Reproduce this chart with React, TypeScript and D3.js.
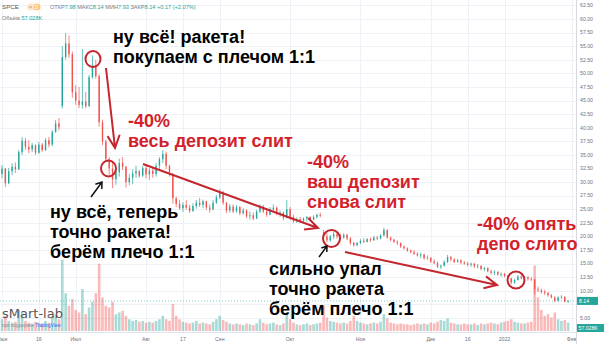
import React from 'react';
import * as d3 from 'd3';

const W = 605;
const H = 344;

// Daily candles, 2021-06-01 .. 2022-01-31 (trading days)
const OPEN = [31.5,32.5,29.8,32.0,32.8,32.4,35.5,37.6,36.5,36.0,36.8,35.4,36.9,35.9,37.7,36.9,39.2,40.8,44.0,53.0,
55.5,53.5,46.5,45.0,44.2,44.8,44.0,49.3,51.5,49.5,41.0,37.5,34.2,32.5,30.5,31.8,33.5,32.8,30.0,30.8,
31.6,32.0,31.2,32.6,31.4,32.1,31.5,33.0,34.2,35.2,33.0,31.5,27.0,26.0,25.2,25.8,25.3,24.7,25.6,26.2,
25.8,26.5,25.3,25.0,26.2,27.2,28.1,26.2,24.8,25.5,24.6,25.4,24.3,24.8,23.7,23.9,23.3,24.6,25.5,24.6,
24.0,25.0,25.3,24.2,24.4,23.4,25.0,23.6,22.8,23.2,22.9,23.3,23.6,23.1,23.6,24.0,20.8,20.0,19.3,20.0,
20.4,20.0,19.8,20.3,19.6,18.8,18.4,18.8,19.2,19.0,19.5,19.3,19.8,19.6,20.2,21.2,19.8,19.4,19.0,18.8,
18.1,17.8,17.4,17.1,16.8,16.5,16.7,16.0,16.1,15.4,15.1,14.4,14.6,15.3,16.2,15.8,15.3,15.6,15.2,15.0,
14.8,15.0,14.5,14.6,14.0,14.2,13.6,13.3,13.5,13.0,13.1,12.7,12.3,11.5,12.0,12.6,12.3,12.5,12.2,12.1,
10.3,10.1,9.8,9.6,9.2,8.8,8.2,8.8,8.9,8.0];
const HIGH = [33.1,32.6,32.6,33.5,33.6,35.9,38.3,38.1,37.7,37.2,36.9,37.4,37.2,38.1,38.3,39.6,41.4,41.8,55.0,57.4,
57.0,54.0,47.8,47.5,54.5,46.6,49.7,53.3,52.5,49.8,41.5,37.8,34.6,33.8,32.4,34.3,34.6,33.0,31.5,32.3,
33.0,32.2,33.0,33.0,32.6,32.8,33.5,34.6,35.9,35.6,33.2,31.7,27.3,26.7,26.3,26.7,25.8,26.1,26.7,27.1,
26.8,26.6,25.9,26.7,27.6,28.7,28.4,26.4,26.0,25.9,25.8,25.6,25.2,25.0,24.6,24.4,24.9,25.9,25.8,25.2,
25.4,25.9,25.5,24.8,24.6,26.7,25.4,24.0,23.5,23.6,23.5,23.8,23.7,23.9,24.2,24.4,21.2,20.6,20.3,20.8,
20.6,20.5,20.6,20.5,19.9,19.0,19.0,19.5,19.7,19.7,19.8,20.1,20.1,20.4,21.6,21.3,20.0,19.6,19.3,18.9,
18.4,18.0,17.6,17.5,17.1,17.0,16.8,16.5,16.2,15.8,15.4,14.8,15.6,16.6,16.4,16.0,15.9,15.8,15.5,15.3,
15.2,15.1,14.9,14.7,14.4,14.3,13.9,13.8,13.6,13.4,13.3,12.9,12.4,12.2,12.9,12.9,12.7,12.7,12.5,12.2,
10.8,10.4,10.2,9.8,9.4,9.0,9.0,9.2,9.0,8.3];
const LOW = [30.7,29.1,29.6,31.3,31.7,32.2,35.0,35.9,35.3,35.5,35.0,35.2,35.5,35.7,36.4,36.6,39.1,39.5,43.5,52.5,
52.8,45.5,44.2,43.6,43.5,43.6,43.8,49.0,49.0,40.2,36.8,33.7,31.3,28.9,29.5,31.0,32.2,29.0,29.4,29.6,
30.8,30.8,30.9,30.7,30.4,30.8,31.0,32.2,33.5,32.4,31.0,26.0,25.4,24.9,24.5,24.9,24.3,24.5,25.1,25.4,
25.2,24.9,24.4,24.8,26.0,26.9,25.8,24.3,24.4,24.3,24.4,23.9,24.0,23.4,23.1,23.0,23.2,24.3,24.3,23.6,
23.9,24.5,23.9,23.6,23.0,23.3,23.0,22.5,22.5,22.5,22.7,22.7,22.8,23.0,23.3,23.5,19.6,18.9,19.0,19.5,
19.6,19.4,19.6,19.3,18.4,18.1,18.2,18.6,18.8,18.9,19.0,19.2,19.3,19.5,20.0,19.6,19.1,18.8,18.4,17.9,
17.6,17.2,16.9,16.6,16.3,16.0,15.7,15.7,15.1,14.9,14.2,14.0,14.5,15.1,15.4,15.1,15.2,14.9,14.8,14.5,
14.4,14.2,14.1,13.8,13.6,13.4,13.0,12.9,12.8,12.6,12.5,12.1,11.2,11.3,11.9,12.1,12.1,11.9,11.8,9.3,
9.8,9.5,9.2,8.9,8.6,7.9,8.0,8.5,7.9,7.8];
const CLOSE = [32.5,29.8,32.0,32.8,32.4,35.5,37.6,36.5,36.0,36.8,35.4,36.9,35.9,37.7,36.9,39.2,40.8,40.1,53.0,55.5,
53.5,46.5,45.0,44.2,44.8,44.0,49.3,51.5,49.5,41.0,37.5,34.2,32.5,30.5,31.8,33.5,32.8,30.0,30.8,31.6,
32.0,31.2,32.6,31.4,32.1,31.5,33.0,34.2,35.2,33.0,31.8,27.0,26.0,25.2,25.8,25.3,24.7,25.6,26.2,25.8,
26.5,25.3,25.0,26.2,27.2,28.1,26.2,24.8,25.5,24.6,25.4,24.3,24.8,23.7,23.9,23.3,24.6,25.5,24.6,24.0,
25.0,25.3,24.2,24.4,23.4,25.0,23.6,22.8,23.2,22.9,23.3,23.6,23.1,23.6,24.0,23.8,20.0,19.3,20.0,20.4,
20.0,19.8,20.3,19.6,18.8,18.4,18.8,19.2,19.0,19.5,19.3,19.8,19.6,20.2,21.2,19.8,19.4,19.0,18.8,18.1,
17.8,17.4,17.1,16.8,16.5,16.7,16.0,16.1,15.4,15.1,14.4,14.6,15.3,16.2,15.8,15.3,15.6,15.2,15.0,14.8,
15.0,14.5,14.6,14.0,14.2,13.6,13.3,13.5,13.0,13.1,12.7,12.3,11.5,12.0,12.6,12.3,12.5,12.2,12.1,10.3,
10.1,9.8,9.6,9.2,8.8,8.2,8.8,8.9,8.0,8.14];
const VOLUME = [14,18,12,10,11,25,22,12,10,9,11,10,9,12,10,16,20,14,85,45,
30,38,25,22,50,20,28,35,45,80,40,30,28,35,20,22,24,18,14,12,
13,11,12,10,11,10,12,14,18,14,12,32,18,14,11,10,9,10,12,9,
10,9,8,11,14,18,13,11,9,8,9,8,7,9,8,7,9,14,10,8,
9,10,8,7,9,22,14,10,8,7,8,9,7,8,9,10,30,16,12,11,
10,9,10,9,12,18,12,10,9,8,9,10,9,11,20,15,10,9,8,9,
8,8,7,8,9,8,9,8,10,9,11,13,12,15,10,9,8,8,9,8,
8,9,7,9,8,9,10,9,8,10,11,12,14,11,10,9,9,10,11,78,
40,25,18,20,16,22,14,12,13,10];

const HOLIDAYS = ['2021-07-05', '2021-09-06', '2021-11-25', '2021-12-24', '2022-01-17'];
const TICK_DATES = ['2021-06-01', '2021-06-16', '2021-07-01', '2021-08-02', '2021-08-17', '2021-09-01',
  '2021-10-01', '2021-11-01', '2021-12-01', '2021-12-16', '2022-01-03', '2022-02-01'];
const TICK_LABELS = ['Июн', '16', 'Июл', 'Авг', '17', 'Сен', 'Окт', 'Ноя', 'Дек', '16', '2022', 'Фев'];
const PRICE_TICKS = [62.5, 60, 57.5, 55, 52.5, 50, 47.5, 45, 42.5, 40, 37.5, 35, 32.5, 30, 27.5, 25,
  22.5, 20, 17.5, 15, 12.5, 10, 7.5, 5];

const LAST_PRICE = '8.14';
const LAST_VOLUME = '57.028K';

function tradingDays(count: number): string[] {
  const out: string[] = [];
  const d = new Date(Date.UTC(2021, 5, 1));
  while (out.length < count) {
    const s = d.toISOString().slice(0, 10);
    const wd = d.getUTCDay();
    if (wd !== 0 && wd !== 6 && !HOLIDAYS.includes(s)) out.push(s);
    d.setUTCDate(d.getUTCDate() + 1);
  }
  return out;
}
const DAYS = tradingDays(175);

const PLOT_R = 576;
const x = d3.scaleLinear().domain([0, 170]).range([2, 571.5]);
const y = d3.scaleLinear().domain([5, 60]).range([318, 19]);
const yv = d3.scaleLinear().domain([0, 100]).range([331, 247]);

const UP = '#26a69a';
const DOWN = '#ef5350';
const RED = '#d3212b';
const RED_LINE = '#c4262e';

function arrow(x1: number, y1: number, x2: number, y2: number, len: number, ang = 0.45) {
  const a = Math.atan2(y2 - y1, x2 - x1);
  const p1 = [x2 - len * Math.cos(a - ang), y2 - len * Math.sin(a - ang)];
  const p2 = [x2 - len * Math.cos(a + ang), y2 - len * Math.sin(a + ang)];
  return `M${x1},${y1}L${x2},${y2}M${p1[0]},${p1[1]}L${x2},${y2}L${p2[0]},${p2[1]}`;
}

const BOLD = "'Liberation Sans', Arial, sans-serif";
const SMALL = "'Liberation Sans', Arial, sans-serif";

function Block({ lines, x0, y0, color }: { lines: string[]; x0: number; y0: number; color: string }) {
  return (
    <text x={x0} y={y0} fill={color} fontFamily={BOLD} fontWeight="bold" fontSize={18}>
      {lines.map((l, i) => (
        <tspan key={i} x={x0} y={y0 + i * 20}>{l}</tspan>
      ))}
    </text>
  );
}

export default function App() {
  const n = CLOSE.length;
  const idx = d3.range(n);
  const ticks = TICK_DATES.map((d) => DAYS.indexOf(d));
  const lastY = y(CLOSE[n - 1]);
  const axisTicks = PRICE_TICKS.filter((p) => Math.abs(y(p) - lastY) > 6);
  return (
    <svg width={W} height={H} viewBox={`0 0 ${W} ${H}`}
      style={{ position: 'fixed', left: 0, top: 0, background: '#fff' }}>
      <defs>
        <clipPath id="plot"><rect x={0} y={0} width={PLOT_R} height={H} /></clipPath>
      </defs>
      <rect x={0} y={0} width={W} height={H} fill="#fff" />
      {/* grid */}
      <g stroke="#eef1f6" strokeWidth={1}>
        {PRICE_TICKS.map((p) => (
          <line key={p} x1={0} x2={PLOT_R} y1={Math.round(y(p)) + 0.5} y2={Math.round(y(p)) + 0.5} />
        ))}
        {ticks.map((t, i) => (
          <line key={i} x1={Math.round(x(t)) + 0.5} x2={Math.round(x(t)) + 0.5} y1={0} y2={332} />
        ))}
      </g>
      {/* volume */}
      <g clipPath="url(#plot)">
        {idx.map((i) => (
          <rect key={i} x={x(i) - 1.3} width={2.6} y={yv(VOLUME[i])} height={yv(0) - yv(VOLUME[i])}
            fill={CLOSE[i] >= OPEN[i] ? UP : DOWN} opacity={0.4} />
        ))}
      </g>
      {/* last price line */}
      <line x1={0} x2={PLOT_R} y1={lastY} y2={lastY} stroke={UP} strokeWidth={0.8} strokeDasharray="1 2" opacity={0.7} />
      {/* candles */}
      <g>
        {idx.map((i) => {
          const c = CLOSE[i] >= OPEN[i] ? UP : DOWN;
          const top = y(Math.max(OPEN[i], CLOSE[i]));
          const bot = y(Math.min(OPEN[i], CLOSE[i]));
          return (
            <g key={i}>
              <line x1={x(i)} x2={x(i)} y1={y(HIGH[i])} y2={y(LOW[i])} stroke={c} strokeWidth={0.7} />
              <rect x={x(i) - 0.7} width={1.4} y={top} height={Math.max(0.7, bot - top)} fill={c} />
            </g>
          );
        })}
      </g>
      {/* header */}
      <g fontFamily={SMALL} fontSize={5.6}>
        <text x={2} y={9} fill="#50535e" fontSize={6.2}>SPCE</text>
        <rect x={27} y={3.5} width={14} height={7} rx={3.5} fill="#fde7cc" />
        <line x1={29} x2={32} y1={7} y2={7} stroke="#b0896a" strokeWidth={0.8} />
        <circle cx={37} cy={7} r={3} fill="#fbb96b" />
        <text x={37} y={9} fill="#fff" fontSize={4.6} fontWeight="bold" textAnchor="middle">D</text>
        <text x={50} y={9} fill="#787b86">
          ОТКР<tspan fill={UP}>7.98</tspan> МАКС<tspan fill={UP}>8.14</tspan> МИН<tspan fill={UP}>7.93</tspan> ЗАКР<tspan fill={UP}>8.14</tspan> <tspan fill={UP}>+0.17 (+2.07%)</tspan>
        </text>
        <text x={2} y={20} fill="#787b86">Объём <tspan fill={UP}>{LAST_VOLUME}</tspan></text>
      </g>
      {/* watermark */}
      <text x={2} y={318} fontFamily="'DejaVu Sans', sans-serif" fontSize={13} fill="#555">sMart-lab</text>
      <text x={2} y={327} fontFamily={SMALL} fontSize={4.6} fill="#8a8d96">при поддержке <tspan fill="#2962ff">TradingView</tspan></text>
      {/* time axis */}
      <line x1={0} x2={PLOT_R} y1={332.5} y2={332.5} stroke="#e0e3eb" />
      <g clipPath="url(#plot)" fontFamily={SMALL} fontSize={5.2} fill="#6f727c" textAnchor="middle">
        {ticks.map((t, i) => (
          <text key={i} x={x(t)} y={341}>{TICK_LABELS[i]}</text>
        ))}
      </g>
      {/* price axis */}
      <rect x={PLOT_R} y={0} width={W - PLOT_R} height={H} fill="#fff" />
      <line x1={PLOT_R + 0.5} x2={PLOT_R + 0.5} y1={0} y2={H} stroke="#d6d9e0" />
      <g fontFamily={SMALL} fontSize={5.2} fill="#6f727c">
        {axisTicks.map((p) => (
          <text key={p} x={580} y={y(p) + 1.8}>{p.toFixed(2)}</text>
        ))}
      </g>
      <rect x={PLOT_R + 1} y={lastY - 4} width={21} height={8} fill={UP} />
      <text x={579} y={lastY + 1.9} fontFamily={SMALL} fontSize={5.2} fill="#fff">{LAST_PRICE}</text>
      <rect x={PLOT_R + 1} y={324} width={27} height={8} fill={UP} />
      <text x={578.5} y={329.9} fontFamily={SMALL} fontSize={5.2} fill="#fff">{LAST_VOLUME}</text>

      {/* annotations */}
      <g fill="none" stroke={RED_LINE} strokeWidth={2}>
        <ellipse cx={93} cy={59} rx={7.5} ry={8} />
        <ellipse cx={108.5} cy={168.5} rx={7.5} ry={8} />
        <ellipse cx={331.5} cy={238.5} rx={8.5} ry={8.5} />
        <ellipse cx={516} cy={280} rx={8.5} ry={8.5} />
        <path d={arrow(106, 68, 115, 148, 14)} />
        <path d={arrow(143, 164, 318, 228, 14)} />
        <path d={arrow(345, 252, 497, 285, 14)} />
      </g>
      <g fill="none" stroke="#111" strokeWidth={1.5}>
        <path d={arrow(91, 197, 102, 182, 7, 0.6)} />
        <path d={arrow(319, 257, 327, 246, 6, 0.6)} />
      </g>
      <Block lines={['ну всё! ракета!', 'покупаем с плечом 1:1']} x0={113} y0={43} color="#000" />
      <Block lines={['-40%', 'весь депозит слит']} x0={128} y0={127} color={RED} />
      <Block lines={['-40%', 'ваш депозит', 'снова слит']} x0={307} y0={168} color={RED} />
      <Block lines={['-40% опять', 'депо слито']} x0={477} y0={230} color={RED} />
      <Block lines={['ну всё, теперь', 'точно ракета!', 'берём плечо 1:1']} x0={50} y0={218} color="#000" />
      <Block lines={['сильно упал', 'точно ракета', 'берём плечо 1:1']} x0={269} y0={275} color="#000" />
    </svg>
  );
}
